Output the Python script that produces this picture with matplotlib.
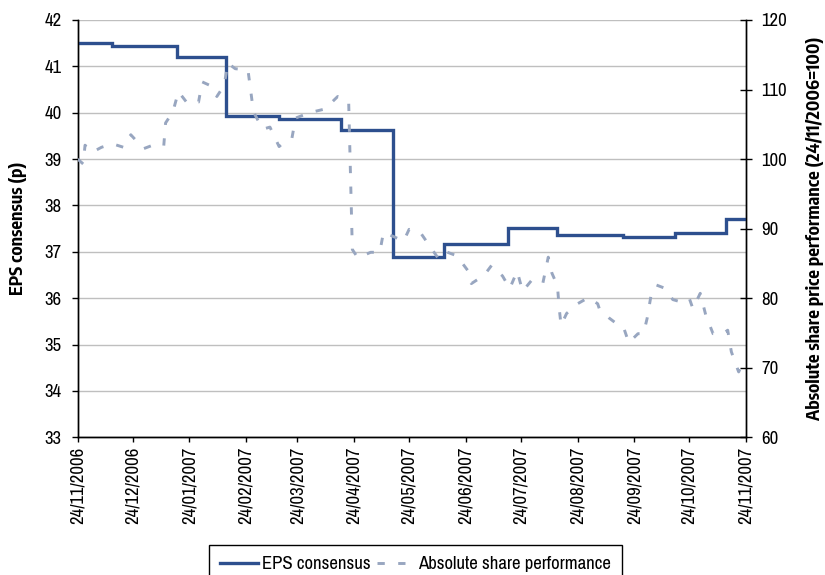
import matplotlib
matplotlib.use("Agg")
import matplotlib.pyplot as plt
from matplotlib import font_manager as fm
import pandas as pd

# EPS consensus (pence): date of each revision and the new consensus level
eps_dates = ["24/11/2006", "13/12/2006", "17/01/2007", "13/02/2007", "14/03/2007",
             "17/04/2007", "15/05/2007", "12/06/2007", "17/07/2007", "13/08/2007",
             "18/09/2007", "16/10/2007", "13/11/2007", "24/11/2007"]
eps_values = [41.50, 41.45, 41.20, 39.94, 39.87,
              39.62, 36.88, 37.17, 37.52, 37.37,
              37.31, 37.40, 37.70, 37.70]

# Absolute share price performance, rebased to 100 on 24/11/2006
share_dates = [
    "24/11/2006", "27/11/2006", "28/11/2006", "02/12/2006", "07/12/2006",
    "13/12/2006", "19/12/2006", "23/12/2006", "30/12/2006", "04/01/2007",
    "10/01/2007", "11/01/2007", "15/01/2007", "18/01/2007", "23/01/2007",
    "29/01/2007", "31/01/2007", "05/02/2007", "08/02/2007", "12/02/2007",
    "14/02/2007", "18/02/2007", "25/02/2007", "28/02/2007", "05/03/2007",
    "09/03/2007", "14/03/2007", "17/03/2007", "21/03/2007", "23/03/2007",
    "31/03/2007", "08/04/2007", "15/04/2007", "21/04/2007", "23/04/2007",
    "26/04/2007", "03/05/2007", "08/05/2007", "10/05/2007", "16/05/2007",
    "21/05/2007", "24/05/2007", "30/05/2007", "04/06/2007", "09/06/2007",
    "13/06/2007", "19/06/2007", "25/06/2007", "27/06/2007", "04/07/2007",
    "08/07/2007", "14/07/2007", "18/07/2007", "22/07/2007", "25/07/2007",
    "30/07/2007", "05/08/2007", "08/08/2007", "10/08/2007", "13/08/2007",
    "14/08/2007", "15/08/2007", "18/08/2007", "24/08/2007", "30/08/2007",
    "04/09/2007", "05/09/2007", "10/09/2007", "14/09/2007", "18/09/2007",
    "21/09/2007", "26/09/2007", "29/09/2007", "01/10/2007", "03/10/2007",
    "06/10/2007", "11/10/2007", "15/10/2007", "19/10/2007", "24/10/2007",
    "26/10/2007", "30/10/2007", "02/11/2007", "06/11/2007", "11/11/2007",
    "14/11/2007", "16/11/2007", "19/11/2007", "20/11/2007", "23/11/2007",
]
share_values = [
    100.0, 99.3, 102.0, 101.0, 101.7,
    102.2, 101.7, 103.5, 101.5, 102.0,
    101.9, 105.2, 106.8, 109.7, 108.0,
    108.2, 111.1, 110.5, 109.0, 110.6,
    113.8, 113.0, 112.8, 106.8, 104.3,
    104.6, 101.8, 102.5, 103.0, 105.9,
    106.7, 107.2, 109.0, 108.2, 87.0,
    85.8, 86.6, 86.6, 89.5, 88.8,
    88.2, 89.9, 89.5, 87.6, 85.7,
    86.7, 86.1, 84.0, 82.1, 83.3,
    84.7, 83.2, 81.4, 83.9, 81.0,
    82.6, 82.1, 85.9, 83.6, 81.8,
    78.5, 76.1, 77.8, 79.2, 80.1,
    79.2, 78.4, 77.2, 76.4, 75.9,
    73.6, 74.9, 74.9, 77.1, 80.2,
    81.9, 81.4, 79.8, 79.5, 80.0,
    78.5, 80.7, 77.6, 74.9, 74.8,
    75.4, 72.3, 70.1, 69.4, 71.2,
]

tick_labels = ["24/11/2006", "24/12/2006", "24/01/2007", "24/02/2007", "24/03/2007",
               "24/04/2007", "24/05/2007", "24/06/2007", "24/07/2007", "24/08/2007",
               "24/09/2007", "24/10/2007", "24/11/2007"]

series_names = ["EPS consensus", "Absolute share performance"]
left_label = "EPS consensus (p)"
right_label = "Absolute share price performance (24/11/2006=100)"

# Narrow sans faces: a regular one for ticks and legend, a bold one for axis titles
available = {f.name for f in fm.fontManager.ttflist}


def first_available(candidates, fallback):
    for name in candidates:
        if name in available:
            return name
    return fallback


REG = first_available(["Archivo Narrow", "Liberation Sans Narrow"], "DejaVu Sans")
BOLD = first_available(["Encode Sans Condensed", "Liberation Sans Narrow"], "DejaVu Sans")
narrow = REG != "DejaVu Sans"
FS = 13.5 if narrow else 11
FS_TITLE = 13 if narrow else 11
plt.rcParams["font.family"] = [REG, "DejaVu Sans"]
if not narrow:
    plt.rcParams["font.stretch"] = "condensed"
bold_font = dict(family=[BOLD, "DejaVu Sans"], weight="bold", size=FS_TITLE)

EPS_COLOR = "#2D4F8E"
SHARE_COLOR = "#98A6C0"
GRID_COLOR = "#BFBFBF"

to_dt = lambda s: pd.to_datetime(s, format="%d/%m/%Y")
eps_x = to_dt(eps_dates)
share_x = to_dt(share_dates)
ticks_x = to_dt(tick_labels)

fig = plt.figure(figsize=(8.25, 5.75), dpi=100)
ax = fig.add_axes([77.7 / 825, 1 - 437.3 / 575, (746 - 77.7) / 825, (437.3 - 20) / 575])
ax2 = ax.twinx()

eps_line, = ax.plot(eps_x, eps_values, drawstyle="steps-post", color=EPS_COLOR,
                    lw=2.4, solid_joinstyle="miter", zorder=3)
share_line, = ax2.plot(share_x, share_values, color=SHARE_COLOR, lw=2.1,
                       dashes=(2.5, 4.6), zorder=3)

ax.set_xlim(ticks_x[0], ticks_x[-1])
ax.set_ylim(33, 42)
ax2.set_ylim(60, 120)
ax.set_yticks(range(33, 43))
ax2.set_yticks(range(60, 121, 10))
ax.set_xticks(ticks_x)
ax.set_xticklabels(tick_labels, rotation=90, ha="center", va="top")

ax.grid(axis="y", color=GRID_COLOR, lw=1.0)
ax.set_axisbelow(True)

for a in (ax, ax2):
    a.spines["top"].set_visible(False)
    for side in ("left", "right", "bottom"):
        a.spines[side].set_linewidth(1.0)
        a.spines[side].set_color("black")

ax.tick_params(axis="y", direction="out", length=4.5, width=1.0, pad=7, labelsize=FS)
ax.tick_params(axis="x", direction="out", length=3.6, width=1.0, pad=3, labelsize=FS)
ax2.tick_params(axis="y", direction="inout", length=8, width=1.0, pad=7, labelsize=FS)

fig.text(18 / 825, 1 - 228 / 575, left_label, rotation=90, ha="center", va="center",
         **bold_font)
fig.text(815 / 825, 1 - 228.5 / 575, right_label, rotation=90, ha="center", va="center",
         **bold_font)

leg = fig.legend([eps_line, share_line], series_names, loc="upper left",
                 bbox_to_anchor=(209 / 825, 1 - 545 / 575), bbox_transform=fig.transFigure,
                 ncol=2, fontsize=FS, frameon=True, fancybox=False, edgecolor="black",
                 framealpha=1, borderpad=0.6, borderaxespad=0, handlelength=2.0,
                 handletextpad=0.2, columnspacing=0.35)
leg.get_frame().set_linewidth(1.0)

fig.savefig("out.png", dpi=100)
